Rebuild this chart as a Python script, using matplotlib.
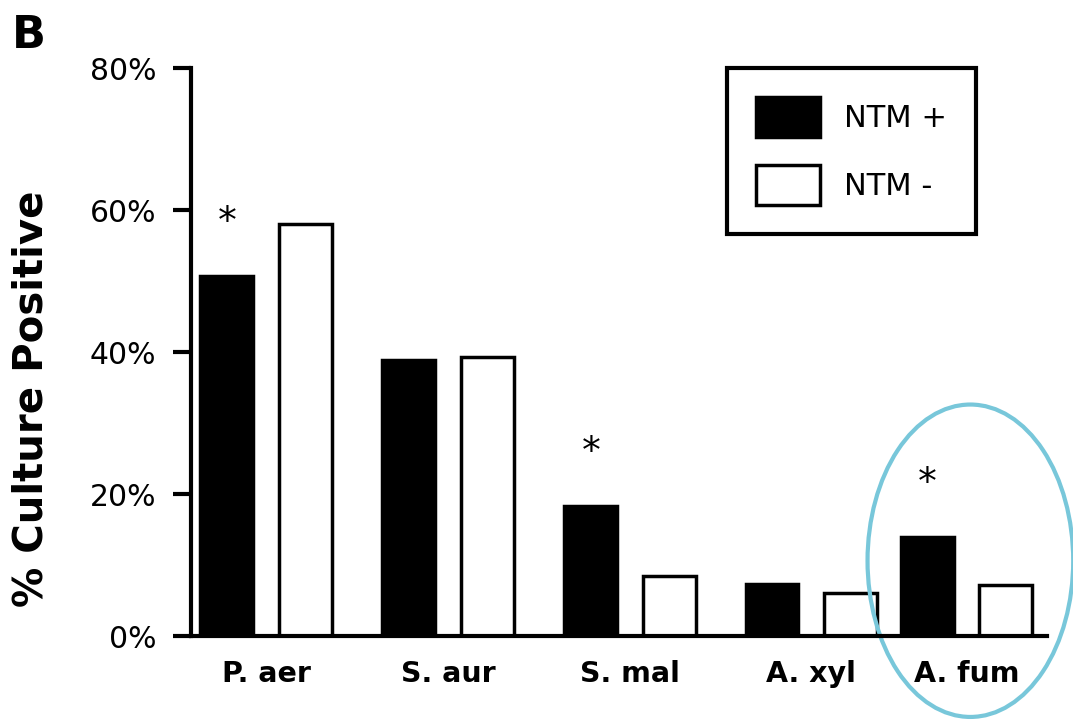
"""
Bar chart: % culture positive for NTM+ vs NTM- patients, panel B.
"""

import numpy as np
import matplotlib
matplotlib.use('Agg')
import matplotlib.pyplot as plt
from matplotlib.patches import Ellipse, Patch

# data
organisms = ['P. aer', 'S. aur', 'S. mal', 'A. xyl', 'A. fum']
ntm_pos = [50.7, 38.9, 18.3, 7.3, 13.9]
ntm_neg = [58.0, 39.3, 8.5, 6.1, 7.2]
significant = [True, False, True, False, True]
yticks = [0, 20, 40, 60, 80]

# layout (group centres, A. fum sits a bit closer to A. xyl in the original)
group_x = np.array([0.0, 1.0, 2.0, 2.995, 3.85])
offset = 0.215
width = 0.29

plt.rcParams['font.family'] = ['DejaVu Sans']

fig = plt.figure(figsize=(10.73, 7.22), dpi=100)
ax = fig.add_axes([191 / 1073, 86 / 722, (1047 - 191) / 1073, (636 - 68) / 722])

ax.bar(group_x - offset, ntm_pos, width=width, color='black', edgecolor='black',
       linewidth=2.5, label='NTM +')
ax.bar(group_x + offset, ntm_neg, width=width, color='white', edgecolor='black',
       linewidth=2.5, label='NTM -')

for x, v, sig in zip(group_x - offset, ntm_pos, significant):
    if sig:
        ax.text(x, v + 6.1, '*', ha='center', va='baseline', fontsize=27)

ax.set_xlim(-0.412, 4.291)
ax.set_ylim(0, 80)
ax.set_yticks(yticks)
ax.set_yticklabels([f'{t}%' for t in yticks])
ax.set_xticks(group_x)
ax.set_xticklabels(organisms, fontweight='bold')

for side in ['top', 'right']:
    ax.spines[side].set_visible(False)
for side in ['left', 'bottom']:
    ax.spines[side].set_linewidth(3)

ax.tick_params(axis='y', direction='out', length=13, width=3, pad=12, labelsize=21.5)
ax.tick_params(axis='x', length=0, pad=17, labelsize=20.5)

ax.set_ylabel('% Culture Positive', fontsize=29, fontweight='bold')
ax.yaxis.set_label_coords(-0.163, 0.418)

handles = [Patch(facecolor='black', edgecolor='black', linewidth=2.5),
           Patch(facecolor='white', edgecolor='black', linewidth=2.5)]
leg = ax.legend(handles, ['NTM +', 'NTM -'], loc='upper right',
                bbox_to_anchor=(0.917, 1.0), borderaxespad=0, fontsize=22,
                frameon=True, fancybox=False, framealpha=1,
                handlelength=2.1, handleheight=1.65,
                labelspacing=0.9, handletextpad=0.78, borderpad=0.95)
leg.get_frame().set_edgecolor('black')
leg.get_frame().set_linewidth(3)

# highlight ring around A. fum
ring = Ellipse((group_x[-1] + 0.02, 10.6), width=1.13, height=44, fill=False,
               edgecolor='#78c7da', linewidth=3, clip_on=False)
ax.add_patch(ring)

fig.text(12 / 1073, 1 - 48 / 722, 'B', fontsize=32, fontweight='bold',
         ha='left', va='baseline')

plt.savefig('out.png', dpi=100)
